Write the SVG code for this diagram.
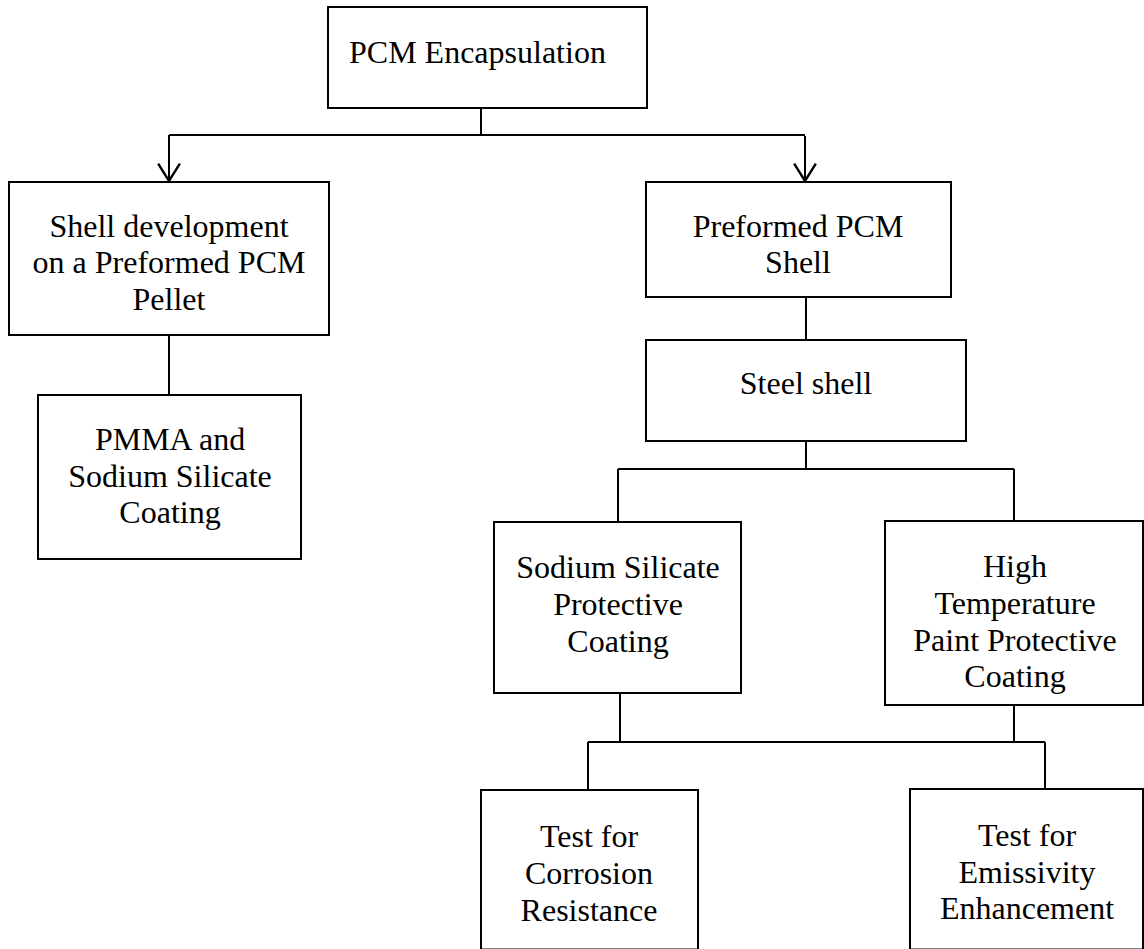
<svg xmlns="http://www.w3.org/2000/svg" width="1144" height="949" viewBox="0 0 1144 949">
  <style>
    .box { fill: #ffffff; stroke: #000000; stroke-width: 2; }
    .wire { fill: none; stroke: #000000; stroke-width: 2; }
    .label { font-family: "Liberation Serif", "Times New Roman", serif; font-size: 32px; fill: #000000; text-anchor: middle; }
  </style>
  <defs>
    <marker id="open-arrow" markerUnits="userSpaceOnUse" markerWidth="24" markerHeight="26" refX="0" refY="0" viewBox="-18 -12 20 24" orient="auto" overflow="visible">
      <path d="M-16,-10 L0,0 L-16,10" fill="none" stroke="#000000" stroke-width="2.2"/>
    </marker>
  </defs>
  <rect width="1144" height="949" fill="#ffffff"/>

  <!-- connectors -->
  <g id="connectors">
    <path class="wire" d="M481,108 V135"/>
    <path class="wire" d="M169,135 H805" stroke-width="1.6"/>
    <path class="wire" d="M169,135 V181" marker-end="url(#open-arrow)"/>
    <path class="wire" d="M805,136 V181" marker-end="url(#open-arrow)"/>
    <path class="wire" d="M169,335 V395"/>
    <path class="wire" d="M806,297 V340"/>
    <path class="wire" d="M806,441 V469 M618,469 H1014 M618,469 V522 M1014,469 V521"/>
    <path class="wire" d="M620,693 V742 M1014,705 V742 M588,742 H1045 M588,742 V790 M1045,742 V789"/>
  </g>

  <g id="node-root">
    <rect class="box" x="328" y="7" width="319" height="101"/>
    <text class="label" x="349" y="63" style="text-anchor:start">PCM Encapsulation</text>
  </g>

  <g id="node-shell-development">
    <rect class="box" x="9" y="182" width="320" height="153"/>
    <text class="label" x="169" y="237">Shell development</text>
    <text class="label" x="169" y="273">on a Preformed PCM</text>
    <text class="label" x="169" y="310">Pellet</text>
  </g>

  <g id="node-pmma">
    <rect class="box" x="38" y="395" width="263" height="164"/>
    <text class="label" x="170" y="450">PMMA and</text>
    <text class="label" x="170" y="487">Sodium Silicate</text>
    <text class="label" x="170" y="523">Coating</text>
  </g>

  <g id="node-preformed-shell">
    <rect class="box" x="646" y="182" width="305" height="115"/>
    <text class="label" x="798" y="237">Preformed PCM</text>
    <text class="label" x="798" y="273">Shell</text>
  </g>

  <g id="node-steel-shell">
    <rect class="box" x="646" y="340" width="320" height="101"/>
    <text class="label" x="806" y="394">Steel shell</text>
  </g>

  <g id="node-sodium-silicate">
    <rect class="box" x="494" y="522" width="247" height="171"/>
    <text class="label" x="618" y="578">Sodium Silicate</text>
    <text class="label" x="618" y="615">Protective</text>
    <text class="label" x="618" y="652">Coating</text>
  </g>

  <g id="node-high-temperature">
    <rect class="box" x="885" y="521" width="258" height="184"/>
    <text class="label" x="1015" y="577">High</text>
    <text class="label" x="1015" y="614">Temperature</text>
    <text class="label" x="1015" y="651">Paint Protective</text>
    <text class="label" x="1015" y="687">Coating</text>
  </g>

  <!-- the lower boxes run to the page edge -->
  <g id="node-corrosion-test">
    <rect class="box" x="481" y="790" width="217" height="159.5"/>
    <text class="label" x="589" y="847">Test for</text>
    <text class="label" x="589" y="884">Corrosion</text>
    <text class="label" x="589" y="921">Resistance</text>
  </g>

  <g id="node-emissivity-test">
    <rect class="box" x="910" y="789" width="233" height="160.5"/>
    <text class="label" x="1027" y="846">Test for</text>
    <text class="label" x="1027" y="883">Emissivity</text>
    <text class="label" x="1027" y="919">Enhancement</text>
  </g>
</svg>
